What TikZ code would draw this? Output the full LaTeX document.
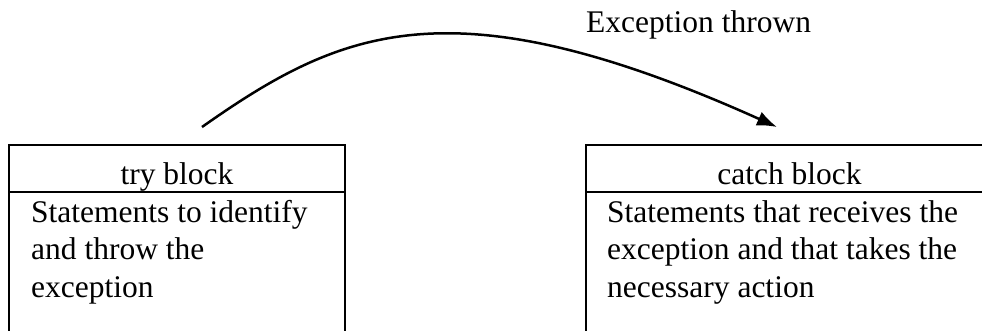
\documentclass[tikz,border=0pt]{standalone}
\usepackage{fontspec}
\setmainfont{Liberation Serif}
\usetikzlibrary{arrows.meta}
\begin{document}
\begin{tikzpicture}[x=1pt,y=-1pt,
  boxline/.style={draw=black,line width=1.8pt,inner sep=0pt,outer sep=0pt,anchor=north west},
  txt/.style={inner sep=0pt,font=\fontsize{31.5}{37.5}\selectfont},
  flow/.style={line width=2.5pt,-{Latex[length=20pt,width=15pt]}}]
\clip (0,0) rectangle (982,330);
\fill[white] (0,0) rectangle (982,330);
% try block
\node[boxline,minimum width=336pt,minimum height=47pt] (tryhead) at (9,145) {};
\node[boxline,minimum width=336pt,minimum height=200pt] (trybody) at (9,192) {};
\node[txt,anchor=base] (trytitle) at (177,184) {try block};
\node[txt,anchor=base west] (try1) at (31,222) {Statements to identify};
\node[txt,anchor=base west] (try2) at (31,259.5) {and throw the};
\node[txt,anchor=base west] (try3) at (31,297) {exception};
% catch block
\node[boxline,minimum width=407pt,minimum height=47pt] (catchhead) at (586,145) {};
\node[boxline,minimum width=407pt,minimum height=200pt] (catchbody) at (586,192) {};
\node[txt,anchor=base] (catchtitle) at (789.5,184) {catch block};
\node[txt,anchor=base west] (catch1) at (607,222) {Statements that receives the};
\node[txt,anchor=base west] (catch2) at (607,259.5) {exception and that takes the};
\node[txt,anchor=base west] (catch3) at (607,297) {necessary action};
% arrow
\coordinate (s) at (202,127);
\coordinate (e) at (777,127);
\draw[flow] (s) .. controls (340,30) and (450,-20) .. (e);
\node[txt,anchor=base west] (lbl) at (586,32) {Exception thrown};
\end{tikzpicture}
\end{document}
